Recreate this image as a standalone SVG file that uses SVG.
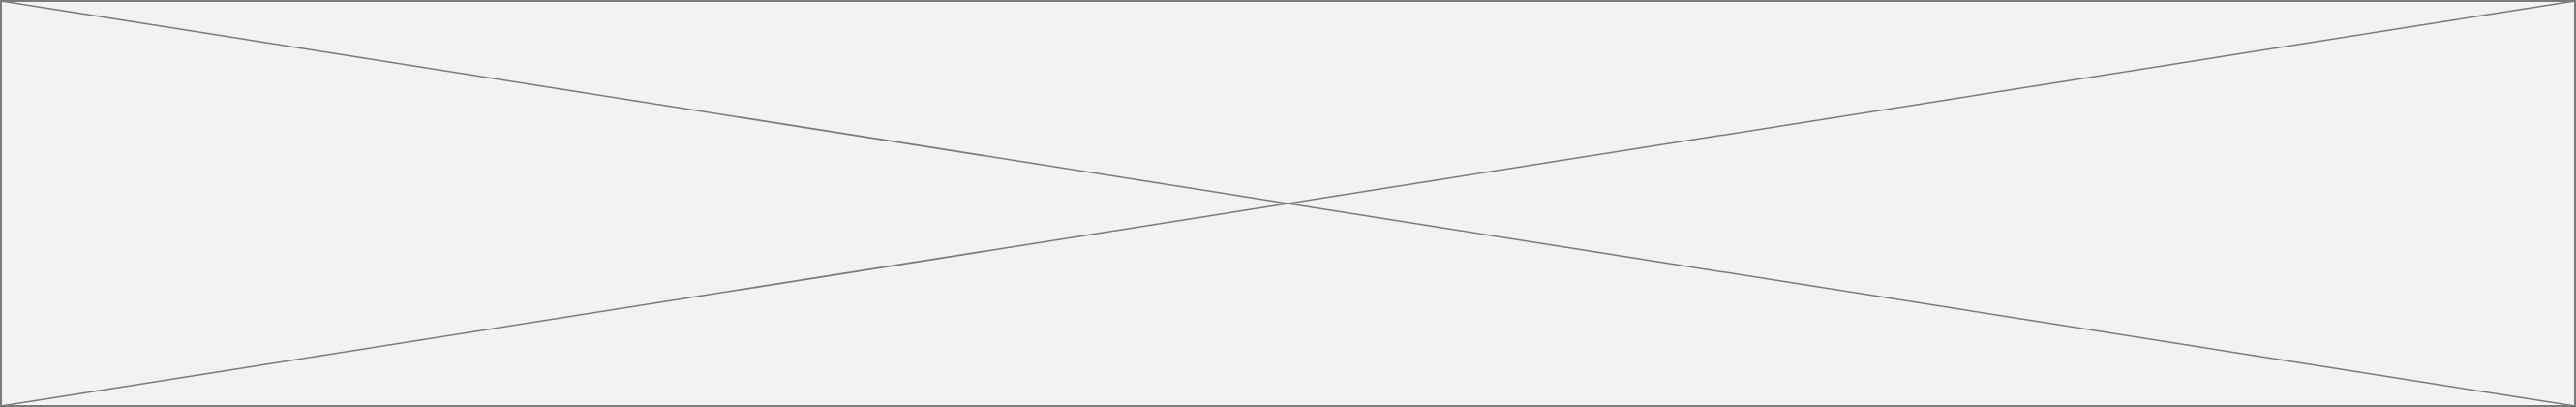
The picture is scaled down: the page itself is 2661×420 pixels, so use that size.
<svg xmlns="http://www.w3.org/2000/svg" width="2661" height="420" viewBox="0 0 2661 420">
<style>.ln{stroke:#7a7a7a;stroke-width:1.5;fill:none}</style>
<g id="placeholder">
<rect x="1" y="1" width="2659" height="418" fill="#f2f2f2" stroke="#7a7a7a" stroke-width="2"/>
</g>
<g id="connectors">
<line class="ln" x1="1" y1="1" x2="2660" y2="419"/>
<line class="ln" x1="1" y1="419" x2="2660" y2="1"/>
</g>
</svg>
